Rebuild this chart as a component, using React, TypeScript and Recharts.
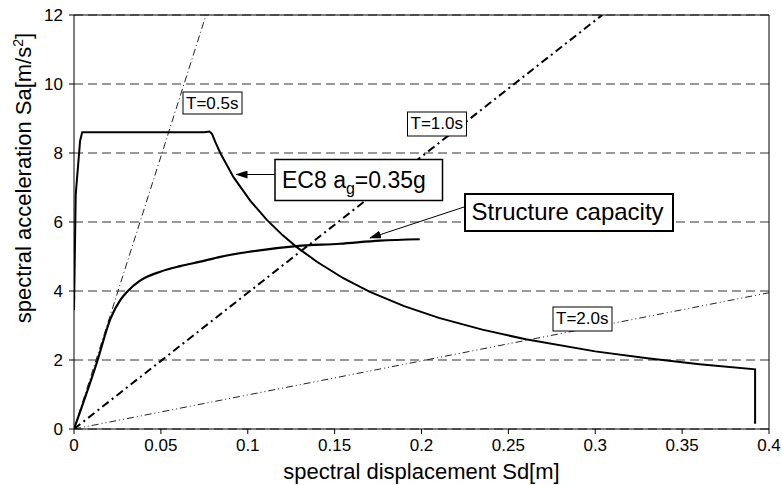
import React from 'react';
import {
  ComposedChart, Line, XAxis, YAxis, CartesianGrid, ReferenceLine,
} from 'recharts';

// values (Sd in m, Sa in m/s2)
const xTicks = [0, 0.05, 0.1, 0.15, 0.2, 0.25, 0.3, 0.35, 0.4];
const yTicks = [0, 2, 4, 6, 8, 10, 12];

const ec8Sd = [0, 0.001, 0.0035, 0.0047, 0.04, 0.075, 0.078, 0.0795, 0.0813, 0.0842, 0.0918, 0.1014, 0.111, 0.12, 0.128, 0.14, 0.155, 0.17, 0.19, 0.21, 0.235, 0.26, 0.3, 0.33, 0.36, 0.392, 0.392];
const ec8Sa = [3.45, 6.8, 8.35, 8.6, 8.6, 8.6, 8.62, 8.55, 8.32, 8.0, 7.3, 6.62, 6.06, 5.62, 5.28, 4.84, 4.37, 3.98, 3.56, 3.22, 2.88, 2.6, 2.25, 2.05, 1.88, 1.73, 0.15];

const capSd = [0, 0.0133, 0.021, 0.0267, 0.0306, 0.038, 0.0497, 0.0612, 0.0727, 0.0842, 0.1, 0.128, 0.153, 0.176, 0.199];
const capSa = [0, 1.95, 3.2, 3.74, 3.98, 4.3, 4.56, 4.72, 4.85, 4.99, 5.13, 5.3, 5.37, 5.46, 5.5];

// period lines (end points)
const t05Sd = [0, 0.076];
const t05Sa = [0, 12];
const t10Sd = [0, 0.304];
const t10Sa = [0, 12];
const t20Sd = [0, 0.4];
const t20Sa = [0, 3.95];

const pts = (xs: number[], ys: number[]) => xs.map((x, i) => ({ x, y: ys[i] }));

const FONT = '"Liberation Sans", Arial, sans-serif';

const App = () => {
  return (
    <div style={{ position: 'absolute', left: 0, top: 0, width: 782, height: 485, background: '#fff', fontFamily: FONT }}>
      <ComposedChart width={782} height={485} margin={{ top: 15, right: 13, left: 0, bottom: 0 }}>
        <CartesianGrid horizontal vertical={false} stroke="#333" strokeDasharray="9 5" />
        <XAxis
          type="number" dataKey="x" domain={[0, 0.4]} ticks={xTicks} allowDataOverflow
          height={56} tickSize={5} tickMargin={5} stroke="#000" interval={0}
          tick={{ fill: '#000', fontSize: 17, fontFamily: FONT }}
        />
        <YAxis
          type="number" dataKey="y" domain={[0, 12]} ticks={yTicks} allowDataOverflow
          width={74} tickSize={5} tickMargin={6} stroke="#000" interval={0}
          tick={{ fill: '#000', fontSize: 17, fontFamily: FONT }}
        />
        <ReferenceLine y={12} stroke="#000" strokeWidth={1} />
        <ReferenceLine x={0.4} stroke="#000" strokeWidth={1} />
        <Line data={pts(t05Sd, t05Sa)} dataKey="y" stroke="#222" strokeWidth={1} strokeDasharray="7 3 1 3" dot={false} isAnimationActive={false} />
        <Line data={pts(t10Sd, t10Sa)} dataKey="y" stroke="#000" strokeWidth={2} strokeDasharray="8 4 2 4" dot={false} isAnimationActive={false} />
        <Line data={pts(t20Sd, t20Sa)} dataKey="y" stroke="#222" strokeWidth={1} strokeDasharray="7 3 1 3 1 3" dot={false} isAnimationActive={false} />
        <Line data={pts(capSd, capSa)} dataKey="y" type="monotone" stroke="#000" strokeWidth={2.2} dot={false} isAnimationActive={false} />
        <Line data={pts(ec8Sd, ec8Sa)} dataKey="y" stroke="#000" strokeWidth={2} dot={false} isAnimationActive={false} />
      </ComposedChart>

      <svg width={782} height={485} style={{ position: 'absolute', left: 0, top: 0, pointerEvents: 'none' }} fontFamily={FONT}>
        <defs>
          <marker id="ah" markerUnits="userSpaceOnUse" markerWidth={12} markerHeight={8} refX={11} refY={4} orient="auto">
            <path d="M0,0 L12,4 L0,8 z" fill="#000" />
          </marker>
        </defs>

        {/* axis titles */}
        <text x={421.5} y={479} textAnchor="middle" fontSize={22} fill="#000">spectral displacement Sd[m]</text>
        <text transform="translate(31,178) rotate(-90)" textAnchor="middle" fontSize={22} fill="#000">
          spectral acceleration Sa[m/s<tspan dy={-8} fontSize={14}>2</tspan><tspan dy={8}>]</tspan>
        </text>

        {/* period labels */}
        <rect x={183} y={92} width={59} height={22} fill="#fff" stroke="#000" strokeWidth={1} />
        <text x={186} y={109} fontSize={17} fill="#000">T=0.5s</text>
        <rect x={407.5} y={112} width={59} height={24} fill="#fff" stroke="#000" strokeWidth={1} />
        <text x={410.5} y={129} fontSize={17} fill="#000">T=1.0s</text>
        <rect x={553} y={307} width={59} height={24} fill="#fff" stroke="#000" strokeWidth={1} />
        <text x={556} y={324} fontSize={17} fill="#000">T=2.0s</text>

        {/* curve labels */}
        <line x1={275} y1={174.5} x2={236.5} y2={174.5} stroke="#000" strokeWidth={1} markerEnd="url(#ah)" />
        <rect x={275} y={159.5} width={167.5} height={41} fill="#fff" stroke="#000" strokeWidth={1.5} />
        <text x={282} y={188} fontSize={23} fill="#000">
          EC8 a<tspan dy={6} fontSize={16}>g</tspan><tspan dy={-6}>=0.35g</tspan>
        </text>

        <line x1={465} y1={206.7} x2={370} y2={238} stroke="#000" strokeWidth={1} markerEnd="url(#ah)" />
        <rect x={465} y={194} width={208} height={37} fill="#fff" stroke="#000" strokeWidth={2} />
        <text x={471.5} y={219.5} fontSize={24} fill="#000">Structure capacity</text>
      </svg>
    </div>
  );
};

export default App;
